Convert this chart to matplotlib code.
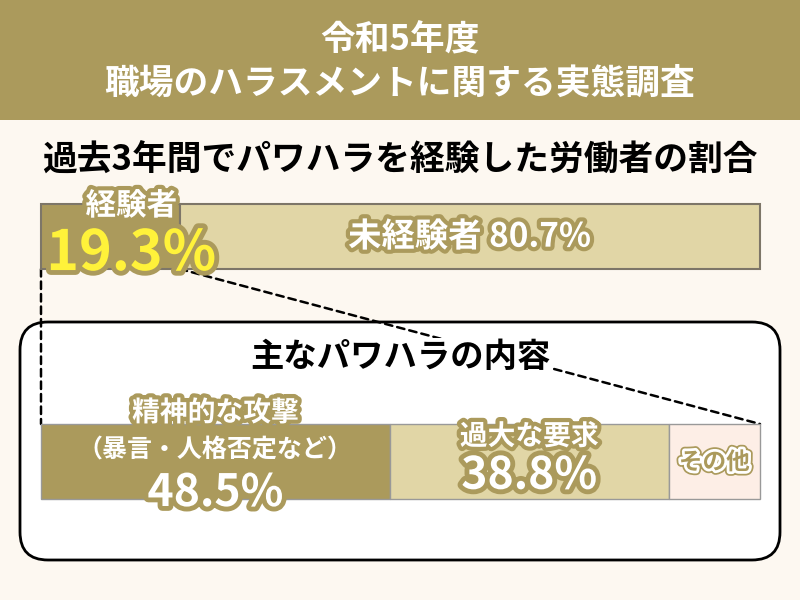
import matplotlib
matplotlib.use("Agg")
import matplotlib.pyplot as plt
from matplotlib.patches import Rectangle, FancyBboxPatch, ConnectionPatch
import matplotlib.patheffects as pe

plt.rcParams['font.family'] = ['Noto Sans CJK JP', 'DejaVu Sans']

# ---- data ----
title_lines = ['令和5年度', '職場のハラスメントに関する実態調査']
subtitle = '過去3年間でパワハラを経験した労働者の割合'
top_labels = ['経験者', '未経験者']
top_values = [19.3, 80.7]
content_title = '主なパワハラの内容'
content_labels = ['精神的な攻撃', '過大な要求', 'その他']
content_notes = ['（暴言・人格否定など）', '', '']
content_values = [48.5, 38.8, 12.7]

# ---- styles ----
BG = '#FDF8F1'
OLIVE = '#AB9A5C'
LIGHT = '#E1D6A6'
PINK = '#FDEEE6'
YELLOW = '#FFF23A'

W, H = 800, 600
fig = plt.figure(figsize=(8, 6), dpi=100)
fig.patch.set_facecolor(BG)

ax_bg = fig.add_axes([0, 0, 1, 1], zorder=0)
ax_bg.set_xlim(0, W)
ax_bg.set_ylim(H, 0)
ax_bg.axis('off')
ax_bg.add_patch(Rectangle((0, 0), W, 120, color=OLIVE, lw=0))
ax_bg.add_patch(FancyBboxPatch((20, 322), 760, 238,
                               boxstyle='round,pad=0,rounding_size=28',
                               facecolor='white', edgecolor='black', lw=2))
ax_bg.text(400, 40, title_lines[0], color='white', fontsize=25, fontweight='bold',
           ha='center', va='center')
ax_bg.text(400, 83, title_lines[1], color='white', fontsize=25, fontweight='bold',
           ha='center', va='center')
ax_bg.text(400, 160, subtitle, color='black', fontsize=25, fontweight='bold',
           ha='center', va='center')

def px_axes(x0, y0, x1, y1, z):
    return fig.add_axes([x0 / W, 1 - y1 / H, (x1 - x0) / W, (y1 - y0) / H], zorder=z)

# ---- top bar ----
ax_top = px_axes(41, 204, 760, 269, 3)
ax_top.set_xlim(0, 100)
ax_top.set_ylim(-0.5, 0.5)
ax_top.axis('off')
left = 0
for v, c in zip(top_values, [OLIVE, LIGHT]):
    ax_top.barh(0, v, left=left, height=1, color=c, edgecolor='#7d7668', lw=1.5, clip_on=False)
    left += v

ax_top.annotate(f'{top_values[0]}%', xy=(0, -0.27), xytext=(65, 0), textcoords='offset points',
                color=YELLOW, fontsize=40, fontweight='bold', ha='center', va='center',
                path_effects=[pe.withStroke(linewidth=7, foreground=OLIVE)],
                annotation_clip=False)
ax_top.annotate(top_labels[0], xy=(0, 0.47), xytext=(65, 0), textcoords='offset points',
                color='white', fontsize=22, fontweight='bold', ha='center', va='center',
                path_effects=[pe.withStroke(linewidth=6, foreground=OLIVE)],
                annotation_clip=False)
ax_top.text(top_values[0] + top_values[1] / 2, -0.01, f'{top_labels[1]} {top_values[1]}%',
            color='white', fontsize=24, fontweight='bold', ha='center', va='center',
            path_effects=[pe.withStroke(linewidth=6, foreground=OLIVE)])

# ---- bottom bar ----
ax_bot = px_axes(41, 424, 760, 499, 3)
ax_bot.set_xlim(0, 100)
ax_bot.set_ylim(-0.5, 0.5)
ax_bot.axis('off')
left = 0
colors = [OLIVE, LIGHT, PINK]
for i, (v, c) in enumerate(zip(content_values, colors)):
    ax_bot.barh(0, v, left=left, height=1, color=c, edgecolor='#999999', lw=1, clip_on=False)
    cx = left + v / 2
    if i == 0:
        ax_bot.text(cx, 0.647, content_labels[i], color='white', fontsize=20, fontweight='bold',
                    ha='center', va='center', path_effects=[pe.withStroke(linewidth=6, foreground=OLIVE)])
        ax_bot.text(cx, 0.14, content_notes[i], color='white', fontsize=18, fontweight='bold',
                    ha='center', va='center')
        ax_bot.text(cx, -0.42, f'{v}%', color='white', fontsize=32, fontweight='bold',
                    ha='center', va='center', path_effects=[pe.withStroke(linewidth=7, foreground=OLIVE)])
    elif i == 1:
        ax_bot.text(cx, 0.33, content_labels[i], color='white', fontsize=20, fontweight='bold',
                    ha='center', va='center', path_effects=[pe.withStroke(linewidth=6, foreground=OLIVE)])
        ax_bot.text(cx, -0.19, f'{v}%', color='white', fontsize=32, fontweight='bold',
                    ha='center', va='center', path_effects=[pe.withStroke(linewidth=7, foreground=OLIVE)])
    else:
        ax_bot.text(cx, -0.01, content_labels[i], color=OLIVE, fontsize=17, fontweight='bold',
                    ha='center', va='center',
                    path_effects=[pe.Stroke(linewidth=6.5, foreground=OLIVE),
                                  pe.Stroke(linewidth=4, foreground='white'), pe.Normal()])
    left += v

# ---- dashed connectors ----
for xa, xb in [(0, 0), (top_values[0], 100)]:
    con = ConnectionPatch(xyA=(xa, -0.5), coordsA=ax_top.transData,
                          xyB=(xb, 0.5), coordsB=ax_bot.transData,
                          color='black', lw=1.8, linestyle=(0, (3, 2)), zorder=2)
    fig.add_artist(con)

fig.text(400, 357, content_title, transform=ax_bg.transData, color='black', fontsize=24,
         fontweight='bold', ha='center', va='center', zorder=5,
         bbox=dict(facecolor='white', edgecolor='none', pad=2))

fig.savefig('out.png', dpi=100, facecolor=BG)
